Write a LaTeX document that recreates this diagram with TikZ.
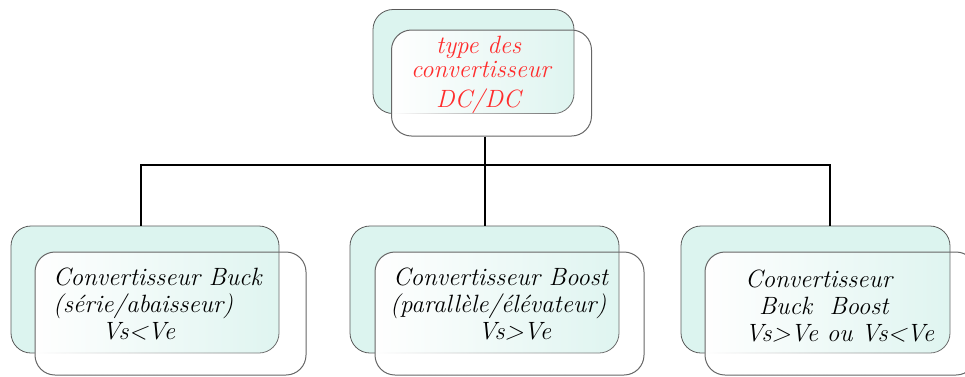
\documentclass[tikz,border=0pt]{standalone}
\usepackage{fontspec}
\usetikzlibrary{fadings}

\definecolor{paleteal}{RGB}{220,244,239}
\definecolor{labelred}{RGB}{255,45,45}

% white veil that fades out towards the right
\tikzfading[name=whitefade, left color=transparent!0, right color=transparent!100]

\tikzset{
  backbox/.style={draw=black!65, line width=0.8pt, fill=paleteal,
    rounded corners=20pt, inner sep=0pt},
  frontbox/.style={draw=black!60, line width=1pt, rounded corners=20pt,
    inner sep=0pt, preaction={fill=white, path fading=whitefade}},
  wire/.style={draw=black, line width=2pt},
  boxtext/.style={font=\itshape\fontsize{25}{27}\selectfont, align=left,
    inner sep=0pt, anchor=base west},
}

\begin{document}
\begin{tikzpicture}[x=1pt, y=-1pt]
  \useasboundingbox (0,0) rectangle (965,376);

  \coordinate (bus) at (485,165);
  \node[backbox, minimum width=201pt, minimum height=104pt] (topback) at (473.5,61.5) {};
  \node[frontbox, minimum width=200pt, minimum height=106pt] (topfront) at (491.5,83) {};

  \node[backbox, minimum width=268pt, minimum height=127pt] (b1) at (145,289.5) {};
  \node[backbox, minimum width=269pt, minimum height=127pt] (b2) at (484.5,289.5) {};
  \node[backbox, minimum width=269pt, minimum height=127pt] (b3) at (815.5,289.5) {};

  % connectors
  \draw[wire] ([xshift=-6.5pt]topfront.south) -- (bus);
  \draw[wire] (bus) -| ([xshift=-4pt]b1.north);
  \draw[wire] (bus) -| (b2.north);
  \draw[wire] (bus) -| ([xshift=14.5pt]b3.north);

  \node[frontbox, minimum width=271pt, minimum height=123pt] (f1) at (170.5,313.5) {};
  \node[frontbox, minimum width=269pt, minimum height=123pt] (f2) at (509.5,313.5) {};
  \node[frontbox, minimum width=271pt, minimum height=123pt] (f3) at (840.5,313.5) {};

  % labels (anchored on the baseline of their last line)
  \node[boxtext, text=labelred, font=\itshape\fontsize{25}{24}\selectfont] (ttop) at (411,107)
    {\hspace*{25pt}type des\\convertisseur\\[6pt]\hspace*{25pt}DC/DC};
  \node[boxtext] (t1) at (53,339)
    {Convertisseur Buck\\(série/abaisseur)\\\hspace*{49pt}Vs<Ve};
  \node[boxtext] (t2) at (393,339)
    {Convertisseur Boost\\\hspace*{-3pt}(parallèle/élévateur)\\\hspace*{85pt}Vs>Ve};
  \node[boxtext] (t3) at (745,341)
    {Convertisseur\\\hspace*{14pt}Buck\ \ Boost\\Vs>Ve ou Vs<Ve};
\end{tikzpicture}
\end{document}
